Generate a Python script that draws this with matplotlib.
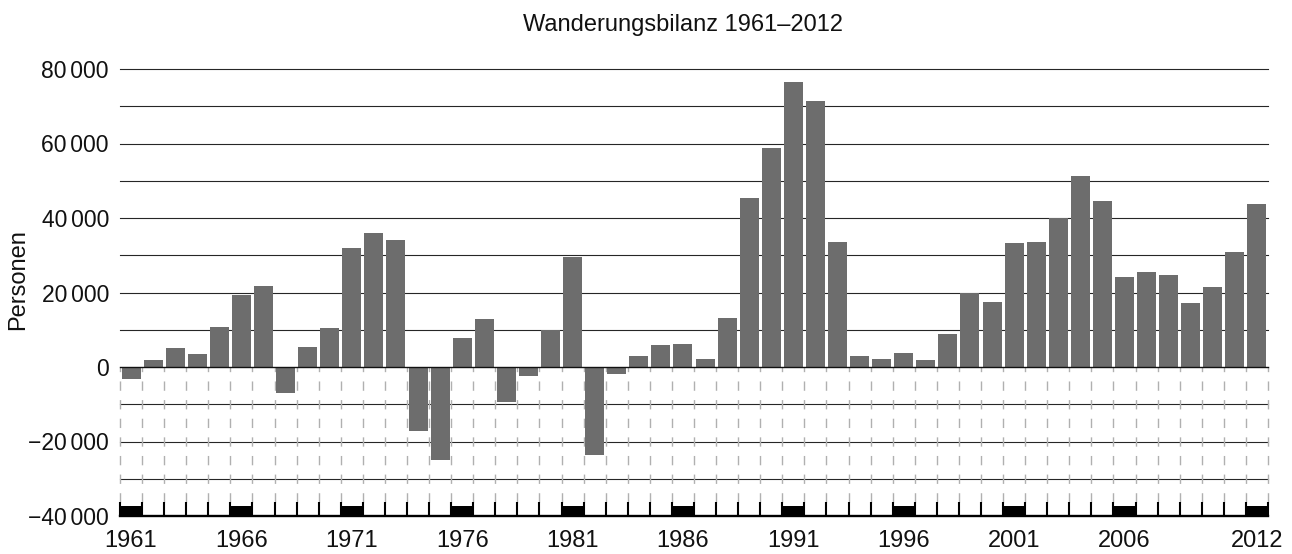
import matplotlib
matplotlib.use("Agg")
import matplotlib.pyplot as plt
import numpy as np

plt.rcParams['font.family'] = ['Liberation Sans', 'DejaVu Sans']
plt.rcParams['lines.scale_dashes'] = False

# ---- data ----
years = list(range(1961, 2013))
values = [
    -3200, 1900, 5100, 3500, 10700, 19300, 21700, -7100, 5400, 10400,
    31900, 35900, 34000, -17100, -24900, 7800, 12900, -9300, -2300, 10000,
    29500, -23600, -1800, 2950, 5900, 6200, 2100, 13100, 45300, 58900,
    76600, 71500, 33500, 2900, 2100, 3750, 1900, 8800, 20000, 17400,
    33300, 33500, 40000, 51300, 44500, 24200, 25500, 24700, 17200, 21500,
    30900, 43800,
]
label_years = [1961, 1966, 1971, 1976, 1981, 1986, 1991, 1996, 2001, 2006, 2012]
y_ticks = [-40000, -20000, 0, 20000, 40000, 60000, 80000]
grid_values = list(range(-30000, 80001, 10000))
title = "Wanderungsbilanz 1961\u20132012"
ylabel = "Personen"

# ---- figure ----
W, H = 1292, 554
fig = plt.figure(figsize=(W / 100, H / 100), dpi=100)
ax_left, ax_right, ax_top, ax_bottom = 120, 1268, 69, 516
ax = fig.add_axes([ax_left / W, 1 - ax_bottom / H,
                   (ax_right - ax_left) / W, (ax_bottom - ax_top) / H])

n = len(years)
x = np.arange(n)
ymin, ymax = -40000, 80000
ax.set_xlim(-0.5, n - 0.5)
ax.set_ylim(ymin, ymax)

# horizontal grid lines
for g in grid_values:
    if g == 0:
        continue
    ax.axhline(g, color='#262626', lw=0.8, zorder=1, clip_on=False)

# dashed boundaries below zero (dash period = 5000 units)
px_per_unit = (ax_bottom - ax_top) / (ymax - ymin)
period_pt = 5000 * px_per_unit * 0.72
dash_on = period_pt * 0.5
bounds = np.arange(n + 1) - 0.5
ax.vlines(bounds, 0, -36400, colors='#b0b0b0', lw=1.0,
          linestyles=(dash_on / 2, (dash_on, period_pt - dash_on)),
          zorder=1, clip_on=False)

# bars
ax.bar(x, values, width=0.86, color='#6d6d6d', zorder=2)

# zero line
ax.axhline(0, color='#111111', lw=1.0, zorder=3, clip_on=False)

# bottom ticks at each boundary
ax.vlines(bounds, ymin, ymin + 3700, colors='black', lw=1.5, zorder=4, clip_on=False)

# black blocks for labelled years
lab_idx = [years.index(yv) for yv in label_years]
ax.bar(lab_idx, [2600] * len(lab_idx), bottom=ymin, width=1.0,
       color='black', zorder=4, clip_on=False)

# spines
for s in ['top', 'right', 'left']:
    ax.spines[s].set_visible(False)
ax.spines['bottom'].set_linewidth(1.7)
ax.spines['bottom'].set_color('black')
ax.spines['bottom'].set_zorder(5)

# ticks
def fmt(v):
    s = f"{abs(v):,}".replace(',', '\u2006')
    return ('\u2212' + s) if v < 0 else s

ax.set_yticks(y_ticks)
ax.set_yticklabels([fmt(v) for v in y_ticks])
ax.set_xticks(lab_idx)
ax.set_xticklabels([str(yv) for yv in label_years])
ax.tick_params(axis='y', length=0, pad=8, labelsize=16.5, colors='#111111')
ax.tick_params(axis='x', length=0, pad=10, labelsize=17, colors='#111111')

# title & y label
fig.text(683 / W, 1 - 31 / H, title, ha='center', va='baseline',
         fontsize=17, color='#111111')
fig.text(18.5 / W, 1 - 279.5 / H, ylabel, ha='center', va='center',
         rotation=90, fontsize=17, color='#111111')

fig.savefig('out.png', dpi=100)
